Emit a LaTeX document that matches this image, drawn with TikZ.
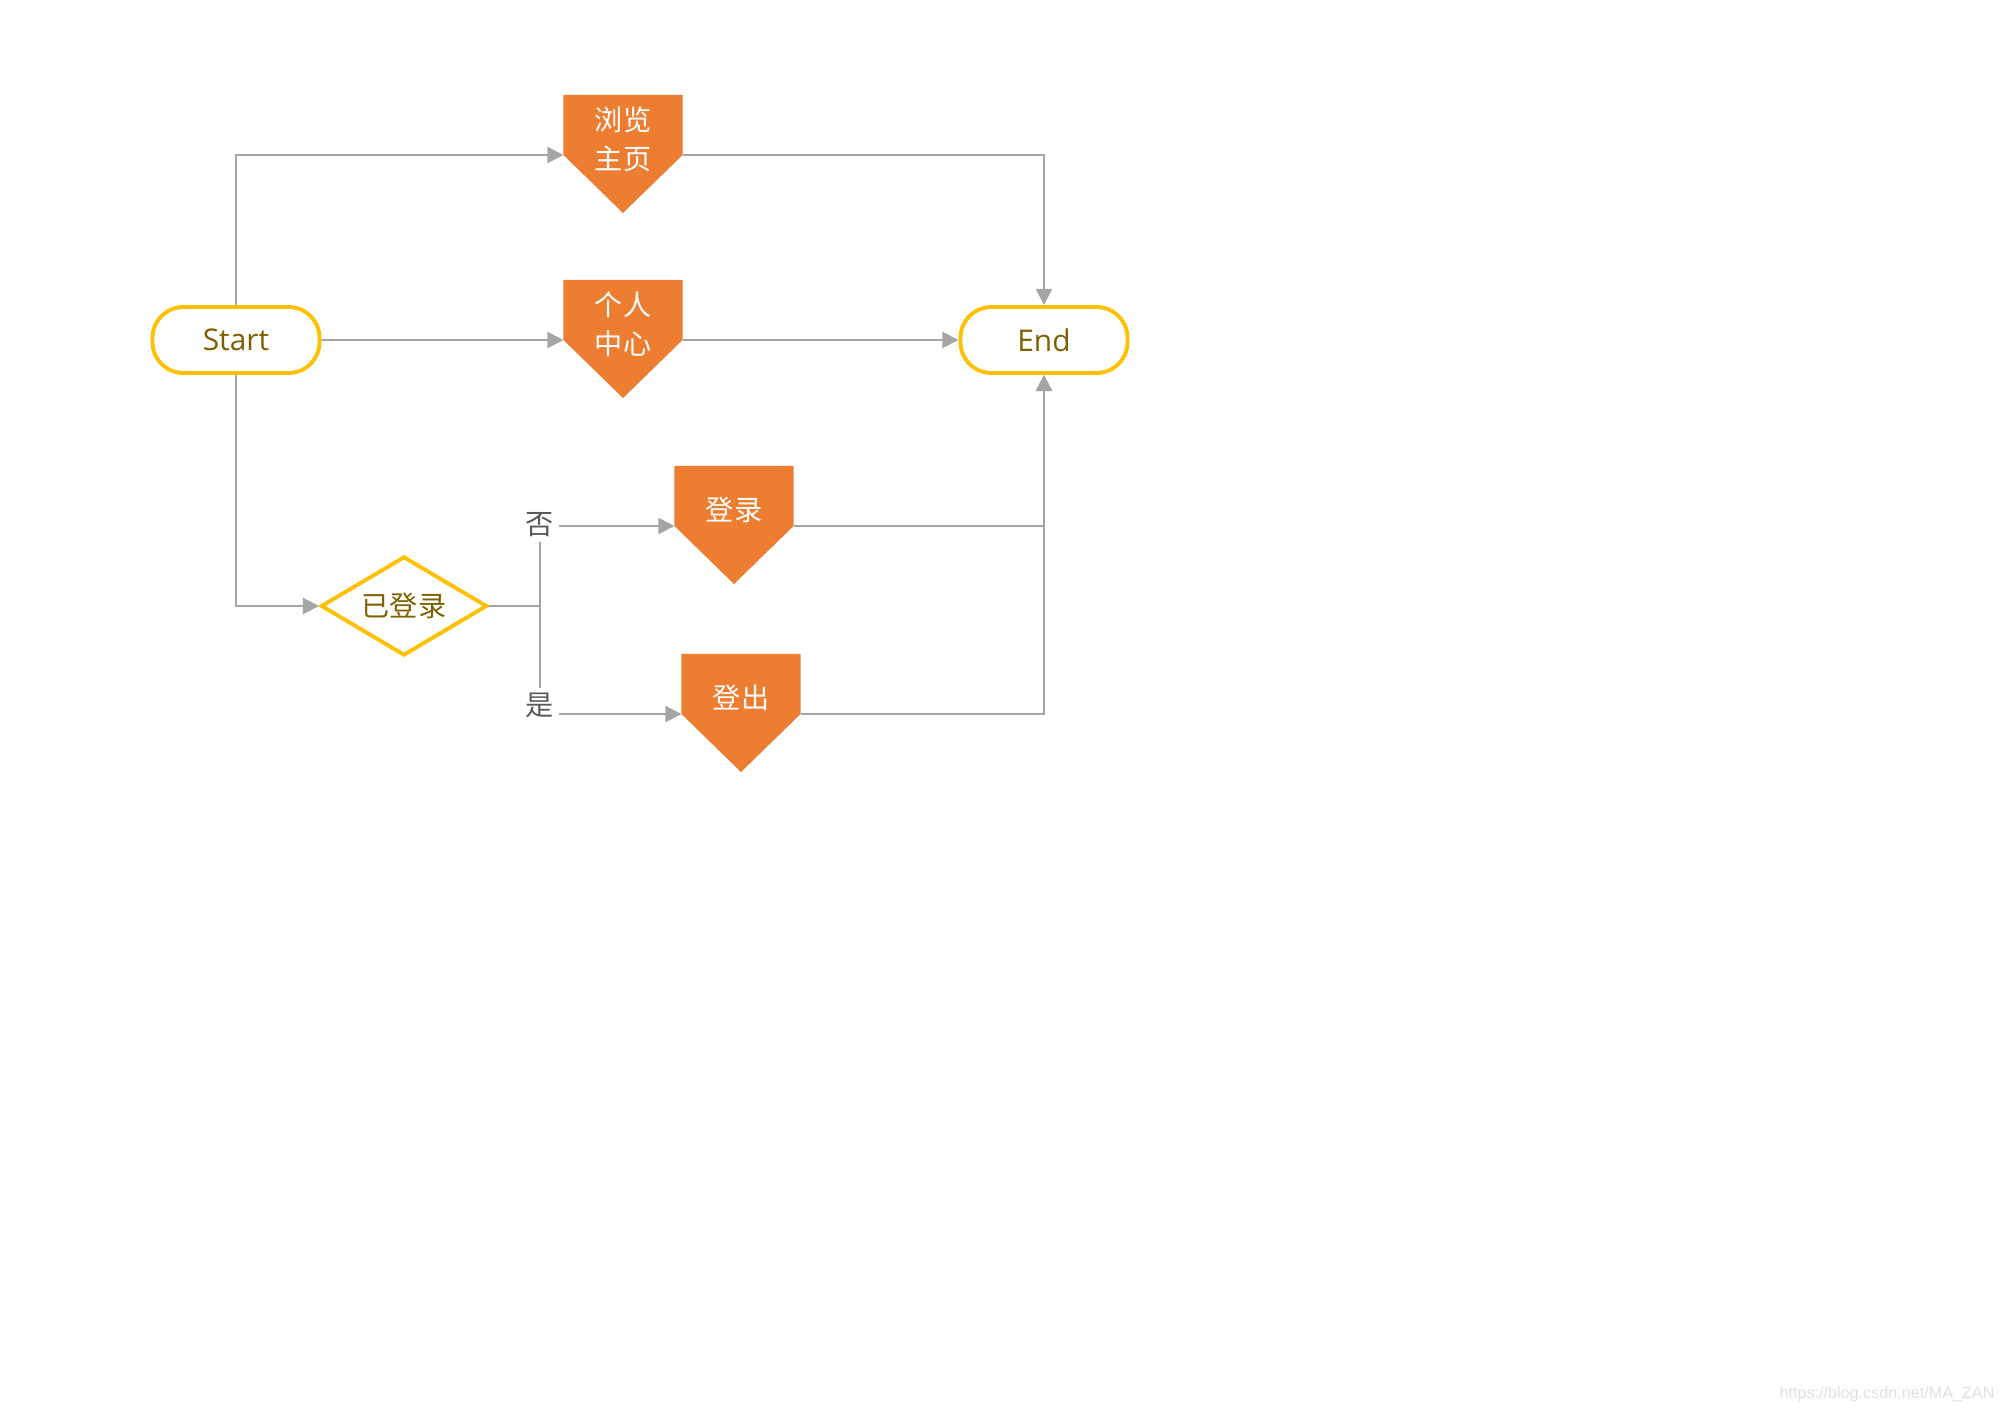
\documentclass[tikz,border=0pt]{standalone}
\usepackage{fontspec}
\setmainfont{Open Sans}
\newfontfamily\cjk{Noto Sans CJK SC}
\newfontfamily\wmfont{Liberation Sans}
\usetikzlibrary{arrows.meta,calc,shapes.geometric}
\definecolor{stepfill}{HTML}{ED7D31}
\definecolor{termline}{HTML}{FFC000}
\definecolor{termtext}{HTML}{7F6000}
\definecolor{flowgray}{HTML}{A5A5A5}
\definecolor{labelgray}{HTML}{595959}
\pgfdeclarelayer{bg}
\pgfsetlayers{bg,main}

\tikzset{
	term/.style={draw=termline, line width=1.1pt, rounded corners=0.31cm, minimum width=1.67cm, minimum height=0.66cm, text=termtext, font=\fontsize{8.5}{10}\selectfont},
	decide/.style={diamond, aspect=1.65, draw=termline, line width=1.1pt, minimum width=1.66cm, minimum height=0.99cm, inner sep=0pt, text=termtext, font=\cjk\fontsize{8}{10}\selectfont},
	stepbox/.style={minimum width=1.19cm, minimum height=0.6cm, inner sep=0pt, outer sep=0pt},
	steptext/.style={text=white, align=center, font=\cjk\fontsize{8}{11}\selectfont, yshift=-0.14cm},
	branch/.style={text=labelgray, font=\cjk\fontsize{8}{10}\selectfont, inner sep=1.2pt},
	flow/.style={draw=flowgray, line width=0.55pt},
	wm/.style={text=black!12, font=\wmfont\fontsize{4.6}{6}\selectfont, inner sep=0pt},
}

\begin{document}
\begin{tikzpicture}[x=0.01cm, y=-0.01cm, >={Triangle[length=4.6pt, width=4.6pt]}]
	\useasboundingbox (0,0) rectangle (2000,1413);

	\node[term] (Start) at (236, 340) {Start};
	\node[term] (End) at (1044, 340) {End};
	\node[decide] (Logged) at (404, 606) {已登录};

	\node[stepbox, label={[steptext]center:浏览\\主页}] (Home) at (623, 125) {};
	\node[stepbox, label={[steptext]center:个人\\中心}] (User) at (623, 310) {};
	\node[stepbox, label={[steptext]center:登录}] (Login) at (734, 496) {};
	\node[stepbox, label={[steptext]center:登出}] (Logout) at (741, 684) {};

	\node[branch] (No) at (540, 525) {否};
	\node[branch] (Yes) at (540, 705) {是};

	\begin{pgfonlayer}{bg}
		\foreach \n in {Home,User,Login,Logout}
			\fill[stepfill] (\n.north west) -- (\n.north east) -- (\n.south east) -- ($(\n.south)+(0,58)$) -- (\n.south west) -- cycle;
	\end{pgfonlayer}

	\draw[flow, ->] (Start.north) |- (Home.south west);
	\draw[flow, ->] (Start.east) -- (User.south west);
	\draw[flow, ->] (Start.south) |- (Logged.west);

	\draw[flow] (Logged.east) -| (No.south);
	\draw[flow] (Logged.east) -| (Yes.north);
	\draw[flow, ->] (No.east |- Login.south west) -- (Login.south west);
	\draw[flow, ->] (Yes.east |- Logout.south west) -- (Logout.south west);

	\draw[flow, ->] (Home.south east) -| (End.north);
	\draw[flow, ->] (User.south east) -- (End.west);
	\draw[flow, ->] (Login.south east) -| (End.south);
	\draw[flow, ->] (Logout.south east) -| (End.south);

	\node[wm] (Mark) at (1887, 1394) {https://blog.csdn.net/MA\_ZAN};
\end{tikzpicture}
\end{document}
